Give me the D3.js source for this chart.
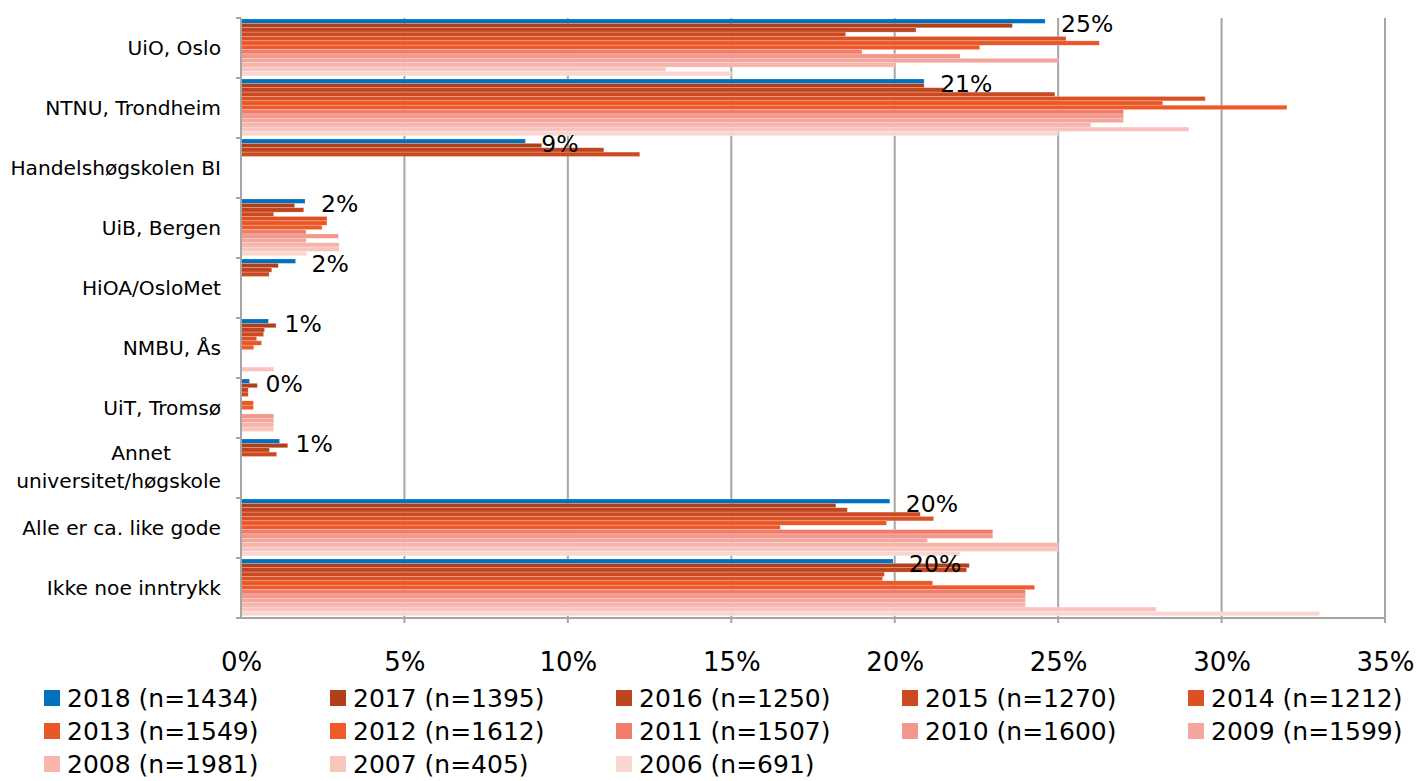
<!DOCTYPE html>
<html>
<head>
<meta charset="utf-8">
<script src="https://cdn.jsdelivr.net/npm/d3@7"></script>
<style>
  html, body { margin: 0; padding: 0; background: #fff; }
  svg { display: block; }
  text { font-family: "DejaVu Sans", sans-serif; fill: #000; }
</style>
</head>
<body>
<svg id="chart" width="1418" height="781"></svg>
<script>
// ---------- DATA ----------
const categories = ["UiO, Oslo", "NTNU, Trondheim", "Handelshøgskolen BI", "UiB, Bergen", "HiOA/OsloMet",
  "NMBU, Ås", "UiT, Tromsø", "Annet universitet/høgskole", "Alle er ca. like gode", "Ikke noe inntrykk"];
const years = ["2018", "2017", "2016", "2015", "2014", "2013", "2012", "2011", "2010", "2009", "2008", "2007", "2006"];
const sampleSizes = [1434, 1395, 1250, 1270, 1212, 1549, 1612, 1507, 1600, 1599, 1981, 405, 691];
const seriesColors = ["#0070C0", "#B23F1C", "#BF4520", "#CC4A21", "#DC5124", "#EA5726", "#F05A28",
  "#F07D6C", "#F2978C", "#F4A69C", "#F6B4AB", "#F8C5BE", "#FAD6D1"];

const v2018 = [24.6, 20.9, 8.7, 1.96, 1.67, 0.84, 0.26, 1.18, 19.85, 19.95];
const v2017 = [23.6, 20.9, 9.2, 1.64, 1.14, 1.07, 0.5, 1.43, 18.2, 22.28];
const v2016 = [20.65, 21.5, 11.1, 1.92, 0.94, 0.72, 0.22, 0.87, 18.55, 22.2];
const v2015 = [18.5, 24.9, 12.2, 1.0, 0.86, 0.69, 0.22, 1.09, 20.78, 19.68];
const v2014 = [25.24, 29.5, null, 2.63, null, 0.48, null, null, 21.19, 19.63];
const v2013 = [26.26, 28.2, null, 2.63, null, 0.63, 0.38, null, 19.75, 21.16];
const v2012 = [22.6, 32.0, null, 2.48, null, 0.39, 0.38, null, 16.5, 24.28];
const v2011 = [19.0, 27.0, null, 1.99, null, null, null, null, 23.0, 24.0];
const v2010 = [22.0, 27.0, null, 2.98, null, null, 1.0, null, 23.0, 24.0];
const v2009 = [25.0, 27.0, null, 2.0, null, null, 1.0, null, 21.0, 24.0];
const v2008 = [20.0, 26.0, null, 3.0, null, null, 1.0, null, 25.0, 24.0];
const v2007 = [13.0, 29.0, null, 3.0, null, 1.0, 1.0, null, 25.0, 28.0];
const v2006 = [15.0, 25.0, null, 2.0, null, null, null, null, 22.0, 33.0];
const seriesValues = [v2018, v2017, v2016, v2015, v2014, v2013, v2012, v2011, v2010, v2009, v2008, v2007, v2006];

const xTicks = [0, 5, 10, 15, 20, 25, 30, 35];

// ---------- LAYOUT ----------
const svg = d3.select("#chart");
const plotLeft = 241, plotRight = 1385, plotTop = 18, plotBottom = 618;

const x = d3.scaleLinear().domain([0, 35]).range([plotLeft, plotRight]);
const y = d3.scaleBand().domain(categories).range([plotTop, plotBottom]).paddingInner(0).paddingOuter(0);
const yInner = d3.scaleBand().domain(years).range([1, 57.8]).padding(0);
const color = d3.scaleOrdinal().domain(years).range(seriesColors);

// gridlines
svg.append("g").selectAll("line").data(xTicks.slice(1)).join("line")
  .attr("x1", d => x(d)).attr("x2", d => x(d))
  .attr("y1", plotTop).attr("y2", plotBottom + 5)
  .attr("stroke", "#a6a6a6").attr("stroke-width", 2);

// bars
const rows = [];
categories.forEach((c, ci) => {
  years.forEach((yr, si) => {
    const v = seriesValues[si][ci];
    if (v != null) rows.push({ cat: c, year: yr, value: v });
  });
});
svg.append("g").selectAll("rect").data(rows).join("rect")
  .attr("x", x(0))
  .attr("y", d => y(d.cat) + yInner(d.year))
  .attr("width", d => x(d.value) - x(0))
  .attr("height", yInner.bandwidth())
  .attr("fill", d => color(d.year))
  .attr("stroke", "rgba(255,255,255,0.35)")
  .attr("stroke-width", 0.6);

// axes lines
svg.append("line").attr("x1", plotLeft).attr("x2", plotLeft).attr("y1", plotTop).attr("y2", plotBottom)
  .attr("stroke", "#a6a6a6").attr("stroke-width", 2);
svg.append("line").attr("x1", plotLeft - 1).attr("x2", plotRight + 1).attr("y1", plotBottom).attr("y2", plotBottom)
  .attr("stroke", "#a6a6a6").attr("stroke-width", 2);
// y ticks at band boundaries
const bounds = categories.map(c => y(c)).concat([plotBottom]);
svg.append("g").selectAll("line").data(bounds).join("line")
  .attr("x1", plotLeft - 5).attr("x2", plotLeft)
  .attr("y1", d => d).attr("y2", d => d)
  .attr("stroke", "#a6a6a6").attr("stroke-width", 2);

// x axis via d3 axis
const xAxis = d3.axisBottom(x).tickValues(xTicks).tickFormat(d => d + "%").tickSize(0).tickPadding(0);
const gx = svg.append("g").attr("transform", `translate(0,${plotBottom})`).call(xAxis);
gx.select(".domain").remove();
gx.selectAll("text").attr("font-size", 26).attr("dy", null).attr("y", 53)
  .style("font-family", "DejaVu Sans, sans-serif").attr("fill", "#000");

// category labels
const catG = svg.append("g");
const catFont = 20.2;
categories.forEach(c => {
  const cy = y(c) + y.bandwidth() / 2;
  if (c === "Annet universitet/høgskole") {
    catG.append("text").attr("x", 141).attr("y", cy - 8).attr("text-anchor", "middle")
      .attr("font-size", catFont).attr("fill", "#222").text("Annet");
    catG.append("text").attr("x", 221).attr("y", cy + 20).attr("text-anchor", "end")
      .attr("font-size", catFont).attr("fill", "#222").text("universitet/høgskole");
  } else {
    catG.append("text").attr("x", 221).attr("y", cy + 7).attr("text-anchor", "end")
      .attr("font-size", catFont).attr("fill", "#222").text(c);
  }
});

// data labels for 2018
svg.append("g").selectAll("text").data(categories).join("text")
  .attr("x", (c, i) => x(v2018[i]) + 16)
  .attr("y", c => y(c) + yInner("2018") + yInner.bandwidth() / 2 + 11)
  .attr("font-size", 23.5)
  .text((c, i) => Math.round(v2018[i]) + "%");

// legend
const legCols = [44, 330, 616, 902, 1188];
const legRows = [698, 731, 764];
const leg = svg.append("g");
years.forEach((yr, i) => {
  const col = i % 5, row = Math.floor(i / 5);
  const lx = legCols[col], ly = legRows[row];
  leg.append("rect").attr("x", lx).attr("y", ly - 8).attr("width", 16).attr("height", 16).attr("fill", color(yr));
  leg.append("text").attr("x", lx + 23).attr("y", ly + 9).attr("font-size", 25)
    .text(`${yr} (n=${sampleSizes[i]})`);
});
</script>
</body>
</html>
